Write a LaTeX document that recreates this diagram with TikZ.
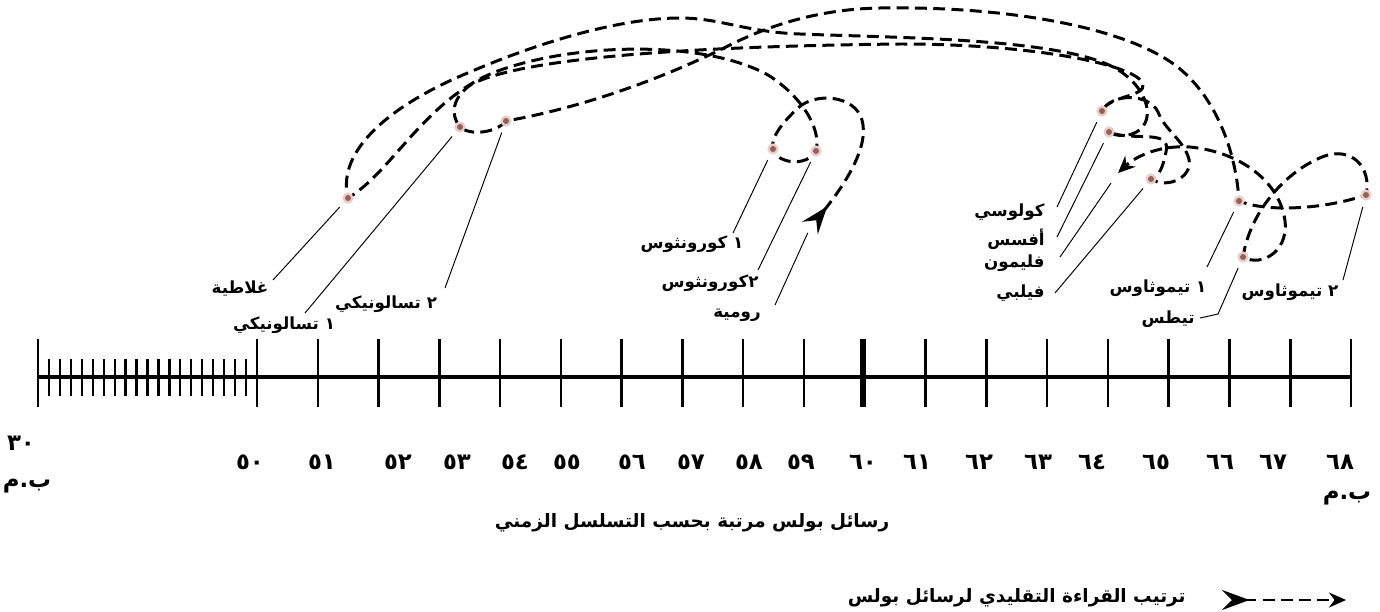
\documentclass[tikz,border=0pt]{standalone}
\usepackage{fontspec}
\usepackage{tikz}
\usetikzlibrary{arrows.meta, calc}
\newfontfamily\arabicfont[Script=Arabic]{DejaVu Sans}
\TeXXeTstate=1
\definecolor{dotbrown}{RGB}{150,96,88}
\definecolor{dothalo}{RGB}{232,205,200}

\begin{document}
\begin{tikzpicture}[
    x=0.02cm,y=-0.02cm,
    >=Stealth,
    route/.style={
        line width=1.7pt,
        dash pattern=on 6.8pt off 3.6pt,
        {Stealth[reversed, length=5.5mm, width=4mm, inset=2mm]}-{Stealth[length=3.4mm, width=3mm]}
    },
    leader/.style={line width=0.55pt, shorten >=7pt},
    lbl/.style={font=\arabicfont\bfseries\fontsize{9.5}{11}\selectfont, inner sep=0pt},
    yr/.style={font=\arabicfont\bfseries\fontsize{13}{14}\selectfont, inner sep=0pt},
    ttl/.style={font=\arabicfont\bfseries\fontsize{10.5}{12}\selectfont, inner sep=0pt},
    major/.style={line width=1.4pt},
    minor/.style={line width=1.3pt}
]
\useasboundingbox (0,0) rectangle (1380,612);

% --- Time axis ---
\coordinate (ax0) at (38,377);
\coordinate (ax1) at (1351,377);
\draw[line width=2.2pt] (ax0) -- (ax1);
\draw[major] (38,339) -- (38,407);
\foreach \i in {1,...,19}
    \draw[minor] ({38+\i*10.95},359) -- ({38+\i*10.95},396);
\foreach \k in {0,...,18}
    \draw[major] ({257+\k*60.78},339) -- ({257+\k*60.78},407);
\draw[line width=3.6pt] (862.8,339) -- (862.8,407);

% --- Years ---
\node[yr] (y30) at (21,443) {٣٠};
\node[yr] (bm0) at (27,486) {\beginR ب.م\endR};
\foreach \xx/\lab in {250/٥٠, 322/٥١, 398/٥٢, 457/٥٣, 515/٥٤, 567/٥٥, 632/٥٦,
    691/٥٧, 749/٥٨, 801/٥٩, 863/٦٠, 917/٦١, 979/٦٢, 1038/٦٣, 1092/٦٤,
    1156/٦٥, 1220/٦٦, 1273/٦٧, 1340/٦٨}
    \node[yr] (y\xx) at (\xx,462) {\lab};
\node[yr] (bm1) at (1347,498) {\beginR ب.م\endR};

\node[ttl] (title) at (692,523) {\beginR رسائل بولس مرتبة بحسب التسلسل الزمني\endR};

% --- Letters ---
\coordinate (rom) at (810,228);
\coordinate (co1) at (773,149);
\coordinate (co2) at (816,151);
\coordinate (gal) at (348,198);
\coordinate (eph) at (1109,132);
\coordinate (php) at (1151,179);
\coordinate (col) at (1102,111);
\coordinate (th1) at (460,127);
\coordinate (th2) at (506,121);
\coordinate (ti1) at (1239,201);
\coordinate (ti2) at (1366,195);
\coordinate (tit) at (1243,257);
\coordinate (phm) at (1118,173);

% --- Reading order ---
\draw[route] (rom) .. controls (842,188) and (870,148) .. (862,120)
    .. controls (855,95) and (815,92) .. (798,108)
    .. controls (783,122) and (770,138) .. (co1)
    .. controls (776,163) and (806,168) .. (co2)
    .. controls (822,128) and (800,95) .. (768,75)
    .. controls (705,40) and (575,42) .. (495,72)
    .. controls (425,100) and (392,172) .. (gal)
    .. controls (336,150) and (392,104) .. (470,72)
    .. controls (540,42) and (620,18) .. (680,18)
    .. controls (720,18) and (745,32) .. (800,34)
    .. controls (900,38) and (1060,38) .. (1115,68)
    .. controls (1150,88) and (1158,125) .. (1132,134)
    .. controls (1122,137) and (1113,135) .. (eph)
    .. controls (1132,142) and (1172,128) .. (1166,152)
    .. controls (1163,166) and (1160,176) .. (php)
    .. controls (1168,190) and (1196,176) .. (1188,156)
    .. controls (1181,138) and (1165,130) .. (1158,112)
    .. controls (1150,94) and (1112,92) .. (col)
    .. controls (1110,95) and (1146,97) .. (1143,84)
    .. controls (1138,66) and (1040,44) .. (900,44)
    .. controls (720,46) and (530,55) .. (472,84)
    .. controls (452,97) and (450,115) .. (th1)
    .. controls (470,136) and (496,133) .. (th2)
    .. controls (580,108) and (660,80) .. (730,45)
    .. controls (770,25) and (820,9) .. (880,8)
    .. controls (1000,6) and (1120,25) .. (1175,65)
    .. controls (1215,95) and (1236,150) .. (ti1)
    .. controls (1265,212) and (1322,210) .. (ti2)
    .. controls (1372,168) and (1352,145) .. (1322,157)
    .. controls (1285,172) and (1250,212) .. (tit)
    .. controls (1262,268) and (1292,250) .. (1284,215)
    .. controls (1276,180) and (1240,152) .. (1190,147)
    .. controls (1160,145) and (1136,156) .. (phm);

\foreach \p in {co1,co2,gal,eph,php,col,th1,th2,ti1,ti2,tit} {
    \fill[dothalo] (\p) circle (3.2pt);
    \fill[dotbrown] (\p) circle (1.7pt);
}

% --- Labels ---
\node[lbl] (lgal) at (240,289) {\beginR غلاطية\endR};
\node[lbl] (lth1) at (284,325) {\beginR ١ تسالونيكي\endR};
\node[lbl] (lth2) at (386,304) {\beginR ٢ تسالونيكي\endR};
\node[lbl] (lco1) at (692,244) {\beginR ١ كورونثوس\endR};
\node[lbl] (lco2) at (710,283) {\beginR ٢كورونثوس\endR};
\node[lbl] (lrom) at (737,315) {\beginR رومية\endR};
\node[lbl, anchor=east] (lcol) at (1045,212) {\beginR كولوسي\endR};
\node[lbl, anchor=east] (leph) at (1045,239) {\beginR أفسس\endR};
\node[lbl, anchor=east] (lphm) at (1045,263) {\beginR فليمون\endR};
\node[lbl, anchor=east] (lphp) at (1045,293) {\beginR فيلبي\endR};
\node[lbl] (lti1) at (1158,288) {\beginR ١ تيموثاوس\endR};
\node[lbl, anchor=east] (ltit) at (1195,319) {\beginR تيطس\endR};
\node[lbl] (lti2) at (1290,292) {\beginR ٢ تيموثاوس\endR};

% --- Leader lines ---
\coordinate (gal-t) at (273,280);
\coordinate (th1-t) at (305,313);
\coordinate (th2-t) at (445,288);
\coordinate (co1-t) at (733,233);
\coordinate (co2-t) at (758,270);
\coordinate (rom-t) at (775,305);
\coordinate (col-t) at (1057,207);
\coordinate (eph-t) at (1057,237);
\coordinate (phm-t) at (1060,257);
\coordinate (php-t) at (1055,293);
\coordinate (ti1-t) at (1207,267);
\coordinate (tit-t) at (1200,318);
\coordinate (ti2-t) at (1343,280);

\draw[leader] (gal-t) -- (gal);
\draw[leader] (th1-t) -- (th1);
\draw[leader] (th2-t) -- (th2);
\draw[leader] (co1-t) -- (co1);
\draw[leader] (co2-t) -- (co2);
\draw[leader, shorten >=3pt] (rom-t) -- (rom);
\draw[leader] (col-t) -- (col);
\draw[leader] (eph-t) -- (eph);
\draw[leader] (phm-t) -- (phm);
\draw[leader] (php-t) -- (php);
\draw[leader] (ti1-t) -- (ti1);
\draw[leader] (tit-t) -- (1218,314) -- (tit);
\draw[leader] (ti2-t) -- (ti2);

% --- Legend ---
\coordinate (leg-a) at (1222,600);
\coordinate (leg-b) at (1346,600);
\draw[route] (leg-a) -- (leg-b);
\node[ttl, anchor=east] (legtxt) at (1186,598) {\beginR ترتيب القراءة التقليدي لرسائل بولس\endR};

\end{tikzpicture}
\end{document}
